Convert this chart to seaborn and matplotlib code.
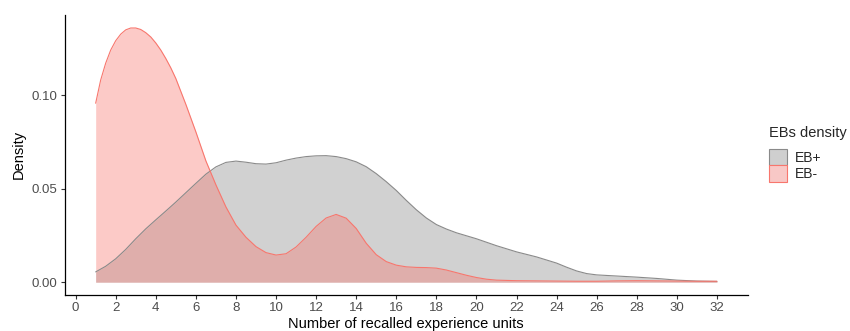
import pandas as pd
import matplotlib
matplotlib.use("Agg")
import matplotlib.pyplot as plt
import seaborn as sns
from matplotlib.patches import Patch

# === Density curves ===
eb_plus_x = [1, 1.5, 2, 2.5, 3, 3.5, 4, 4.5, 5, 5.5, 6, 6.5, 7, 7.5, 8, 8.5,
             9, 9.5, 10, 10.5, 11, 11.5, 12, 12.5, 13, 13.5, 14, 14.5, 15,
             15.5, 16, 16.5, 17, 17.5, 18, 18.5, 19, 20, 21, 22, 23, 24, 24.5,
             25, 25.5, 26, 27, 28, 29, 30, 31, 32]
eb_plus_y = [0.0055, 0.0085, 0.0125, 0.0175, 0.0232, 0.0285, 0.0333, 0.0380,
             0.0428, 0.0478, 0.0528, 0.0577, 0.0616, 0.0640, 0.0647, 0.0641,
             0.0633, 0.0631, 0.0638, 0.0652, 0.0663, 0.0671, 0.0675, 0.0676,
             0.0671, 0.0660, 0.0643, 0.0617, 0.0580, 0.0537, 0.0490, 0.0437,
             0.0387, 0.0343, 0.0308, 0.0284, 0.0264, 0.0232, 0.0195, 0.0162,
             0.0135, 0.0102, 0.0080, 0.0060, 0.0046, 0.0039, 0.0033, 0.0027,
             0.0020, 0.0011, 0.0006, 0.0004]

eb_minus_x = [1, 1.25, 1.5, 1.75, 2, 2.25, 2.5, 2.75, 3, 3.25, 3.5, 3.75, 4,
              4.25, 4.5, 4.75, 5, 5.5, 6, 6.5, 7, 7.5, 8, 8.5, 9, 9.5, 10,
              10.5, 11, 11.5, 12, 12.5, 13, 13.5, 14, 14.5, 15, 15.5, 16, 16.5,
              17, 17.5, 18, 18.5, 19, 19.5, 20, 20.5, 21, 22, 23, 24, 25, 26,
              27, 28, 29, 30, 31, 32]
eb_minus_y = [0.0956, 0.1080, 0.1170, 0.1240, 0.1290, 0.1325, 0.1348, 0.1358,
              0.1358, 0.1350, 0.1333, 0.1310, 0.1278, 0.1240, 0.1195, 0.1145,
              0.1088, 0.0950, 0.0803, 0.0648, 0.0520, 0.0402, 0.0305, 0.0240,
              0.0190, 0.0158, 0.0145, 0.0152, 0.0188, 0.0240, 0.0298, 0.0343,
              0.0362, 0.0342, 0.0287, 0.0208, 0.0147, 0.0110, 0.0091, 0.0082,
              0.0079, 0.0078, 0.0075, 0.0065, 0.0051, 0.0037, 0.0025, 0.0016,
              0.0011, 0.0008, 0.0007, 0.0006, 0.0005, 0.0005, 0.0007, 0.0008,
              0.0007, 0.0006, 0.0005, 0.0005]

groups = ["EB+", "EB-"]
line_colors = {"EB+": "#8a8a8a", "EB-": "#F8766D"}
fill_colors = {"EB+": "#878787", "EB-": "#F8766D"}

df = pd.concat([
    pd.DataFrame({"units": eb_plus_x, "density": eb_plus_y, "group": "EB+"}),
    pd.DataFrame({"units": eb_minus_x, "density": eb_minus_y, "group": "EB-"}),
], ignore_index=True)

sns.set_theme(style="ticks")
plt.rcParams["font.family"] = ["Liberation Sans", "DejaVu Sans"]

fig = plt.figure(figsize=(8.5, 3.31), dpi=100)
ax = fig.add_axes([0.076, 0.109, 0.804, 0.846])

for g in groups:
    sub = df[df["group"] == g]
    ax.fill_between(sub["units"], 0, sub["density"], color=fill_colors[g],
                    alpha=0.38, linewidth=0)
sns.lineplot(data=df, x="units", y="density", hue="group", palette=line_colors,
             hue_order=groups, linewidth=0.8, ax=ax, legend=False, sort=True)

ax.set_xlim(-0.55, 33.55)
ax.set_ylim(-0.0068, 0.1428)
ax.set_xticks(range(0, 33, 2))
ax.set_yticks([0.0, 0.05, 0.10])
ax.set_yticklabels(["0.00", "0.05", "0.10"])
ax.tick_params(axis="both", labelsize=9.5, labelcolor="#4D4D4D", color="#333333",
               length=3, width=0.8, pad=2)
for s in ["top", "right"]:
    ax.spines[s].set_visible(False)
for s in ["left", "bottom"]:
    ax.spines[s].set_color("black")
    ax.spines[s].set_linewidth(0.9)
ax.set_xlabel("Number of recalled experience units", fontsize=10.5, color="black", labelpad=2)
ax.set_ylabel("Density", fontsize=10.5, color="black", labelpad=4)

handles = [Patch(facecolor="#cfcfcf", edgecolor="#8a8a8a", linewidth=0.8, label="EB+"),
           Patch(facecolor="#f8c8c6", edgecolor="#F8766D", linewidth=0.8, label="EB-")]
leg = fig.legend(handles=handles, title="EBs density", loc="upper left",
                 bbox_to_anchor=(0.905, 0.618), frameon=False, fontsize=10,
                 title_fontsize=10.5, handlelength=1.25, handleheight=1.45,
                 handletextpad=0.6, labelspacing=0.0, borderpad=0, borderaxespad=0,
                 alignment="left")
leg._legend_box.sep = 6

fig.savefig("out.png", dpi=100)
plt.close(fig)
